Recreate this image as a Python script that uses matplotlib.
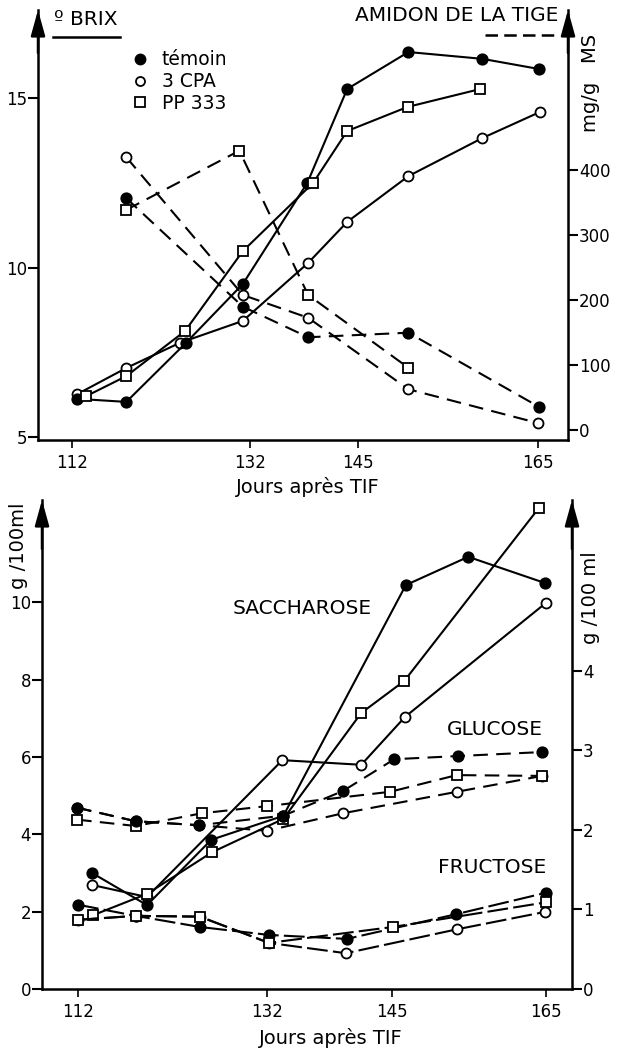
import numpy as np
import matplotlib
matplotlib.use('Agg')
import matplotlib.pyplot as plt
from matplotlib.lines import Line2D

plt.rcParams['font.family'] = 'DejaVu Sans'

# ---------------- haut : ° Brix (gauche, trait plein) et amidon de la tige (droite, tirets)
brix_temoin_j = [112.6, 118.1, 124.8, 131.2, 138.9, 143.7, 150.6, 158.8, 165.1]
brix_temoin = [6.14, 6.05, 7.79, 9.53, 12.51, 15.28, 16.37, 16.17, 15.87]
brix_cpa_j = [112.6, 118.1, 124.1, 131.2, 139.0, 143.7, 150.6, 158.8, 165.2]
brix_cpa = [6.28, 7.05, 7.79, 8.44, 10.15, 11.36, 12.71, 13.83, 14.60]
brix_pp_j = [113.6, 118.1, 124.7, 131.2, 139.6, 143.7, 150.5, 158.6]
brix_pp = [6.22, 6.81, 8.14, 10.50, 12.51, 14.04, 14.75, 15.28]

amidon_temoin_j = [118.1, 131.2, 139.0, 150.6, 165.1]
amidon_temoin = [357, 190, 143, 150, 36]
amidon_cpa_j = [118.1, 131.2, 139.0, 150.6, 165.0]
amidon_cpa = [420, 208, 173, 63, 11]
amidon_pp_j = [118.1, 130.8, 139.0, 150.6]
amidon_pp = [339, 430, 208, 96]

# ---------------- bas : saccharose (gauche), glucose et fructose (droite)
sac_temoin_j = [113.5, 119.3, 126.1, 133.7, 146.8, 154.9, 164.9]
sac_temoin = [3.00, 2.17, 3.86, 4.48, 10.45, 11.18, 10.50]
sac_cpa_j = [113.5, 119.3, 133.6, 141.8, 146.7, 165.0]
sac_cpa = [2.69, 2.38, 5.92, 5.80, 7.04, 9.99]
sac_pp_j = [113.6, 119.3, 126.2, 133.7, 141.8, 146.6, 164.1]
sac_pp = [1.91, 2.46, 3.54, 4.40, 7.14, 7.97, 12.45]

glu_temoin_j = [111.9, 118.1, 124.8, 133.7, 139.9, 145.3, 153.6, 164.5]
glu_temoin = [2.28, 2.11, 2.06, 2.18, 2.49, 2.89, 2.93, 2.98]
glu_cpa_j = [111.9, 118.1, 124.8, 132.0, 139.9, 153.4, 164.5]
glu_cpa = [2.28, 2.11, 2.06, 1.99, 2.21, 2.48, 2.68]
glu_pp_j = [111.9, 118.1, 125.1, 132.0, 144.8, 153.4, 164.5]
glu_pp = [2.13, 2.05, 2.21, 2.30, 2.48, 2.69, 2.68]

fru_temoin_j = [112.0, 118.1, 124.9, 132.2, 140.3, 153.3, 165.0]
fru_temoin = [1.06, 0.92, 0.78, 0.68, 0.63, 0.94, 1.21]
fru_cpa_j = [112.0, 118.1, 124.9, 132.2, 140.2, 153.4, 164.9]
fru_cpa = [0.87, 0.92, 0.91, 0.58, 0.45, 0.75, 0.97]
fru_pp_j = [112.0, 118.1, 124.9, 132.2, 145.1, 165.0]
fru_pp = [0.87, 0.92, 0.91, 0.58, 0.78, 1.09]

jours_ticks = [112, 132, 145, 165]


def echelle(jours, px):
    # axe des jours dessine a la main : graduation non reguliere
    jours = np.asarray(jours, float)
    px = np.asarray(px, float)
    return (lambda d: np.interp(d, jours, px), lambda p: np.interp(p, px, jours))


def courbe(ax, j, v, marker, face, z, ms, dashes=None):
    l, = ax.plot(j, v, color='black', lw=1.5, marker=marker, mfc=face,
                 mec='black', mew=1.3, ms=ms, zorder=z, clip_on=False)
    if dashes:
        l.set_dashes(dashes)


def fleche(ax, x):
    ax.annotate('', xy=(x, 1.0), xytext=(x, 0.9), xycoords='axes fraction',
                arrowprops=dict(arrowstyle='-|>,head_length=1.3,head_width=0.36',
                                color='black', lw=1.8, shrinkA=0, shrinkB=0,
                                mutation_scale=12), annotation_clip=False)


def habille(ax, ax2, knots_j, knots_px):
    ax.set_xscale('function', functions=echelle(knots_j, knots_px))
    ax.set_xlim(knots_j[0], knots_j[-1])
    ax.set_xticks(jours_ticks)
    for s in ['top', 'right']:
        ax.spines[s].set_visible(False)
    for s in ['top', 'left', 'bottom']:
        ax2.spines[s].set_visible(False)
    for a in (ax, ax2):
        for s in a.spines.values():
            s.set_linewidth(1.8)
    ax.tick_params(axis='y', length=7, width=1.5, pad=1, labelsize=12)
    ax2.tick_params(axis='y', length=7, width=1.5, pad=1, labelsize=12)
    ax.tick_params(axis='x', length=6, width=1.2, pad=4, labelsize=12)
    fleche(ax, 0)
    fleche(ax, 1)


fig = plt.figure(figsize=(6.17, 10.5), dpi=100)

# ====================== panneau du haut
ax = fig.add_axes([38 / 617, 610 / 1050, 530 / 617, 430 / 1050])
ax2 = ax.twinx()
habille(ax, ax2, [108.18, 112, 132, 145, 165, 168.33], [38, 72, 250, 358, 538, 568])
ax.set_ylim(4.926, 17.61)
ax.set_yticks([5, 10, 15])
ax2.set_ylim(-15.08, 646.5)
ax2.set_yticks([0, 100, 200, 300, 400])

tirets = (7, 4)
courbe(ax, brix_cpa_j, brix_cpa, 'o', 'white', 3, 7.2)
courbe(ax, brix_temoin_j, brix_temoin, 'o', 'black', 4, 7.5)
courbe(ax, brix_pp_j, brix_pp, 's', 'white', 5, 6.5)
courbe(ax2, amidon_cpa_j, amidon_cpa, 'o', 'white', 3, 7.2, tirets)
courbe(ax2, amidon_temoin_j, amidon_temoin, 'o', 'black', 4, 7.5, tirets)
courbe(ax2, amidon_pp_j, amidon_pp, 's', 'white', 5, 6.5, tirets)

ax.set_xlabel('Jours après TIF', fontsize=14)
ax.xaxis.set_label_coords(0.509, -0.085)

ax.text(0.03, 0.978, 'º BRIX', transform=ax.transAxes, fontsize=14.5, va='center', ha='left')
ax.plot([0.028, 0.155], [0.937, 0.937], transform=ax.transAxes, color='black', lw=1.8, clip_on=False)
ax.text(0.982, 0.988, 'AMIDON DE LA TIGE', transform=ax.transAxes, fontsize=14.5, va='center', ha='right')
ax.plot([0.843, 0.979], [0.942, 0.942], transform=ax.transAxes, color='black', lw=1.8,
        dashes=(5, 2.5), clip_on=False)
ax2.text(1.042, 0.83, 'mg/g   MS', transform=ax.transAxes, rotation=90, fontsize=14,
         va='center', ha='center')

poignees = [Line2D([], [], ls='None', marker='o', mfc='black', mec='black', ms=7.5),
            Line2D([], [], ls='None', marker='o', mfc='white', mec='black', mew=1.3, ms=6.5),
            Line2D([], [], ls='None', marker='s', mfc='white', mec='black', mew=1.3, ms=6.5)]
ax.legend(poignees, ['témoin', '3 CPA', 'PP 333'], loc='upper left',
          bbox_to_anchor=(0.175, 0.906), frameon=False, fontsize=13.5,
          handlelength=1.0, handletextpad=0.65, labelspacing=0.15,
          borderpad=0, borderaxespad=0)

# ====================== panneau du bas
bx = fig.add_axes([42 / 617, 61 / 1050, 530 / 617, 489 / 1050])
bx2 = bx.twinx()
habille(bx, bx2, [108.19, 112, 132, 145, 165, 168.38], [42, 78, 267, 392, 546, 572])
bx.set_ylim(0, 12.65)
bx.set_yticks([0, 2, 4, 6, 8, 10])
bx2.set_ylim(0, 6.15)
bx2.set_yticks([0, 1, 2, 3, 4])

courbe(bx, sac_cpa_j, sac_cpa, 'o', 'white', 3, 7.2)
courbe(bx, sac_pp_j, sac_pp, 's', 'white', 4, 6.5)
courbe(bx, sac_temoin_j, sac_temoin, 'o', 'black', 5, 7.5)

courbe(bx2, glu_cpa_j, glu_cpa, 'o', 'white', 3, 7.2, tirets)
courbe(bx2, glu_pp_j, glu_pp, 's', 'white', 4, 6.5, tirets)
courbe(bx2, glu_temoin_j, glu_temoin, 'o', 'black', 5, 7.5, tirets)

courbe(bx2, fru_cpa_j, fru_cpa, 'o', 'white', 3, 7.2, (10, 2.5))
courbe(bx2, fru_temoin_j, fru_temoin, 'o', 'black', 4, 7.5, (10, 2.5))
courbe(bx2, fru_pp_j, fru_pp, 's', 'white', 5, 6.5, (10, 2.5))

bx.set_xlabel('Jours après TIF', fontsize=14)
bx.xaxis.set_label_coords(0.545, -0.079)

bx.text(-0.045, 0.906, 'g /100ml', transform=bx.transAxes, rotation=90, fontsize=14,
        va='center', ha='center')
bx.text(1.034, 0.80, 'g /100 ml', transform=bx.transAxes, rotation=90, fontsize=14,
        va='center', ha='center')
bx.text(0.49, 0.779, 'SACCHAROSE', transform=bx.transAxes, fontsize=14.5, va='center', ha='center')
bx.text(0.855, 0.53, 'GLUCOSE', transform=bx.transAxes, fontsize=14.5, va='center', ha='center')
bx.text(0.849, 0.249, 'FRUCTOSE', transform=bx.transAxes, fontsize=14.5, va='center', ha='center')

fig.savefig('out.png', dpi=100)
